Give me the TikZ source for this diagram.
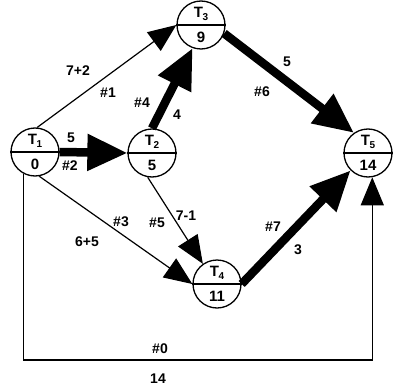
\documentclass[tikz,border=0pt]{standalone}
\usepackage{fontspec}
\setmainfont{Liberation Sans}
\usetikzlibrary{arrows.meta}
\newcommand{\Tsub}[1]{T\kern-0.5pt\raisebox{-3.5pt}{\fontsize{10}{10}\selectfont #1}}
\begin{document}
\begin{tikzpicture}[x=1pt,y=-1pt,
  task/.style={circle, draw, line width=1.3pt, minimum size=48pt, inner sep=0pt},
  ntxt/.style={font=\bfseries\fontsize{15}{15}\selectfont, inner sep=0pt},
  lbl/.style={font=\bfseries\fontsize{14}{14}\selectfont, inner sep=0pt},
  thinarr/.style={line width=1.2pt, -{Triangle[length=28pt,width=23pt]}},
  thickarr/.style={line width=8.5pt, -{Triangle[length=40pt,width=35pt]}},
  divider/.style={line width=1.3pt},
]
\useasboundingbox (0,0) rectangle (395,390);
% tasks
\node[task] (T1) at (35,152) {};
\node[task] (T2) at (152,153) {};
\node[task] (T3) at (201,25) {};
\node[task] (T4) at (217,284) {};
\node[task] (T5) at (368,153) {};
\draw[divider] (T1.west) -- (T1.east);
\draw[divider] (T2.west) -- (T2.east);
\draw[divider] (T3.west) -- (T3.east);
\draw[divider] (T4.west) -- (T4.east);
\draw[divider] (T5.west) -- (T5.east);
\node[ntxt] (T1n) at (35,141) {\Tsub{1}};
\node[ntxt] (T1v) at (35,164) {0};
\node[ntxt] (T2n) at (152,142) {\Tsub{2}};
\node[ntxt] (T2v) at (152,165) {5};
\node[ntxt] (T3n) at (201,14) {\Tsub{3}};
\node[ntxt] (T3v) at (201,37) {9};
\node[ntxt] (T4n) at (217,273) {\Tsub{4}};
\node[ntxt] (T4v) at (217,296) {11};
\node[ntxt] (T5n) at (368,142) {\Tsub{5}};
\node[ntxt] (T5v) at (368,165) {14};
% connectors
\draw[thinarr] (T1.85) -- (T3.west);
\draw[thickarr] (T1.east) -- (T2.west);
\draw[thinarr] (T1.-80) -- (T4.west);
\draw[thickarr] (T2.north) -- (T3.-110);
\draw[thinarr] (T2.-100) -- (T4.125);
\draw[thickarr] (T3.-20) -- (T5.125);
\draw[thickarr] (T4.east) -- (T5.-135);
\coordinate (B) at (200,360);
\draw[thinarr] (T1.-118) |- (B) -| (T5.-80);
% labels
\node[lbl] (l1a) at (78,71) {7+2};
\node[lbl] (l1b) at (108,93) {\#1};
\node[lbl] (l2a) at (71,138) {5};
\node[lbl] (l2b) at (70,166) {\#2};
\node[lbl] (l3a) at (121,222) {\#3};
\node[lbl] (l3b) at (87,242) {6+5};
\node[lbl] (l4a) at (142,103) {\#4};
\node[lbl] (l4b) at (177,115) {4};
\node[lbl] (l5a) at (157,223) {\#5};
\node[lbl] (l5b) at (186,216) {7-1};
\node[lbl] (l6a) at (287,62) {5};
\node[lbl] (l6b) at (262,92) {\#6};
\node[lbl] (l7a) at (273,227) {\#7};
\node[lbl] (l7b) at (298,250) {3};
\node[lbl] (l0a) at (160,349) {\#0};
\node[lbl] (l0b) at (158,379) {14};
\end{tikzpicture}
\end{document}
